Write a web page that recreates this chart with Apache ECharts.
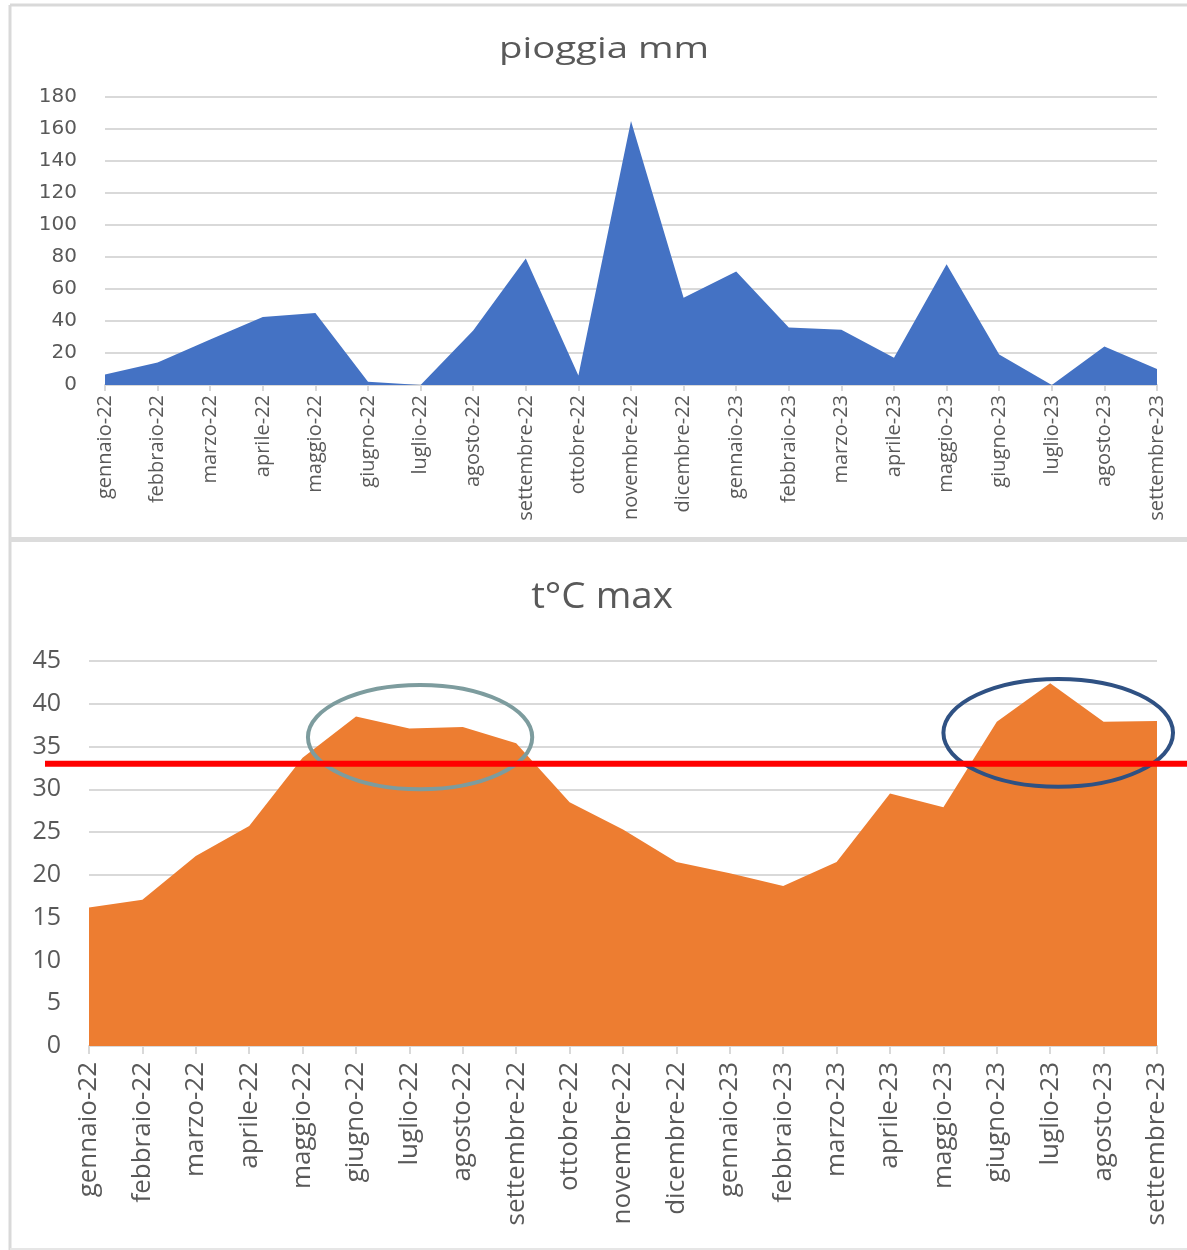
<!DOCTYPE html>
<html>
<head>
<meta charset="utf-8">
<script src="https://cdn.jsdelivr.net/npm/echarts@6/dist/echarts.min.js"></script>
<style>
  html, body { margin: 0; padding: 0; background: #ffffff; }
  #chart { width: 1187px; height: 1250px; }
</style>
</head>
<body>
<div id="chart"></div>
<script>
// Monthly categories shared by both panels
const months = [
  'gennaio-22', 'febbraio-22', 'marzo-22', 'aprile-22', 'maggio-22', 'giugno-22',
  'luglio-22', 'agosto-22', 'settembre-22', 'ottobre-22', 'novembre-22', 'dicembre-22',
  'gennaio-23', 'febbraio-23', 'marzo-23', 'aprile-23', 'maggio-23', 'giugno-23',
  'luglio-23', 'agosto-23', 'settembre-23'
];

// Monthly rainfall (mm)
const rainMm = [6.5, 14, 28.5, 42.5, 45, 2, 0, 34, 79, 6, 165, 54.5, 71, 36, 34.5, 17, 75.5, 19, 0, 24, 10];

// Monthly maximum temperature (°C)
const tMax = [16.2, 17.1, 22.2, 25.7, 33.7, 38.5, 37.1, 37.3, 35.4, 28.5, 25.3, 21.5, 20.2, 18.7, 21.5, 29.5, 27.9, 37.9, 42.4, 37.9, 38.0];

// Heat threshold marked across the temperature panel (°C)
const heatThreshold = 33;

// Axis ranges
const rainAxis = { min: 0, max: 180, interval: 20 };
const tempAxis = { min: 0, max: 45, interval: 5 };

// Highlighted summer periods: centre (category position, °C) and half extents
const summerRings = [
  { cx: 6.2, cy: 36.1, halfCat: 2.1, halfDeg: 6.1, color: '#7d9c9e' },
  { cx: 18.15, cy: 36.6, halfCat: 2.15, halfDeg: 6.3, color: '#2f5183' }
];

const TEXT = '#595959';
const GRID = '#d9d9d9';

const chart = echarts.init(document.getElementById('chart'), null, { renderer: 'canvas' });

function catAxis(gridIndex, fontSize, margin, tickLen) {
  return {
    type: 'category',
    gridIndex: gridIndex,
    data: months,
    boundaryGap: false,
    axisLine: { show: true, lineStyle: { color: GRID, width: 2 } },
    axisTick: { show: true, length: tickLen, lineStyle: { color: GRID, width: 2 } },
    axisLabel: {
      rotate: 90, interval: 0, margin: margin,
      color: TEXT, fontFamily: 'Open Sans', fontSize: fontSize
    },
    splitLine: { show: false }
  };
}

function valAxis(gridIndex, range, font, fontSize) {
  return {
    type: 'value',
    gridIndex: gridIndex,
    min: range.min, max: range.max, interval: range.interval,
    axisLine: { show: false },
    axisTick: { show: false },
    axisLabel: { color: TEXT, fontFamily: font, fontSize: fontSize, margin: 28 },
    splitLine: { show: true, lineStyle: { color: GRID, width: 2 } }
  };
}

chart.setOption({
  animation: false,
  backgroundColor: '#ffffff',
  grid: [
    { left: 105, right: 30, top: 97, height: 288 },
    { left: 89, right: 30, top: 661, height: 385 }
  ],
  xAxis: [catAxis(0, 20, 10, 6), catAxis(1, 26, 16, 8)],
  yAxis: [valAxis(0, rainAxis, 'DejaVu Sans', 20), valAxis(1, tempAxis, 'Open Sans', 25)],
  series: [
    {
      name: 'pioggia mm', type: 'line', xAxisIndex: 0, yAxisIndex: 0,
      data: rainMm, showSymbol: false,
      lineStyle: { width: 0, color: '#4472c4' },
      areaStyle: { color: '#4472c4', opacity: 1 }
    },
    {
      name: 't°C max', type: 'line', xAxisIndex: 1, yAxisIndex: 1,
      data: tMax, showSymbol: false,
      lineStyle: { width: 0, color: '#ed7d31' },
      areaStyle: { color: '#ed7d31', opacity: 1 }
    }
  ]
});

// Overlay: panel frame, titles, threshold line and highlight rings
const toPx = (pt) => chart.convertToPixel({ gridIndex: 1 }, pt);
// category axis positions are snapped to whole indices, so interpolate between them
const x0 = toPx([0, 0])[0];
const catStep = toPx([1, 0])[0] - x0;
const catX = (pos) => x0 + pos * catStep;
const valY = (v) => toPx([0, v])[1];
const thrY = valY(heatThreshold);

const overlay = [
  // panel frame
  { type: 'line', shape: { x1: 10, y1: 5, x2: 10, y2: 1250 }, style: { stroke: '#d9d9d9', lineWidth: 3 }, z: 1 },
  { type: 'line', shape: { x1: 10, y1: 5, x2: 1187, y2: 5 }, style: { stroke: '#d9d9d9', lineWidth: 3 }, z: 1 },
  { type: 'line', shape: { x1: 10, y1: 539.5, x2: 1187, y2: 539.5 }, style: { stroke: '#dcdcdc', lineWidth: 5 }, z: 1 },
  { type: 'line', shape: { x1: 10, y1: 1249, x2: 1187, y2: 1249 }, style: { stroke: '#e6e6e6', lineWidth: 2 }, z: 1 },
  // titles
  {
    type: 'text', x: 604, y: 49, scaleX: 1.28, z: 10,
    style: { text: 'pioggia mm', fill: TEXT, font: '30px "Open Sans"', textAlign: 'center', textVerticalAlign: 'middle' }
  },
  {
    type: 'text', x: 602, y: 598, scaleX: 1.07, z: 10,
    style: { text: 't°C max', fill: TEXT, font: '36px "Open Sans"', textAlign: 'center', textVerticalAlign: 'middle' }
  }
];

summerRings.forEach((r) => {
  const cx = catX(r.cx);
  const cy = valY(r.cy);
  overlay.push({
    type: 'ellipse', z: 20,
    shape: {
      cx: cx, cy: cy,
      rx: Math.abs(catX(r.cx + r.halfCat) - cx),
      ry: Math.abs(cy - valY(r.cy + r.halfDeg))
    },
    style: { fill: 'none', stroke: r.color, lineWidth: 4 }
  });
});

overlay.push({
  type: 'line', z: 30,
  shape: { x1: 45, y1: thrY, x2: 1187, y2: thrY },
  style: { stroke: '#ff0000', lineWidth: 6 }
});

chart.setOption({ graphic: overlay });
</script>
</body>
</html>
